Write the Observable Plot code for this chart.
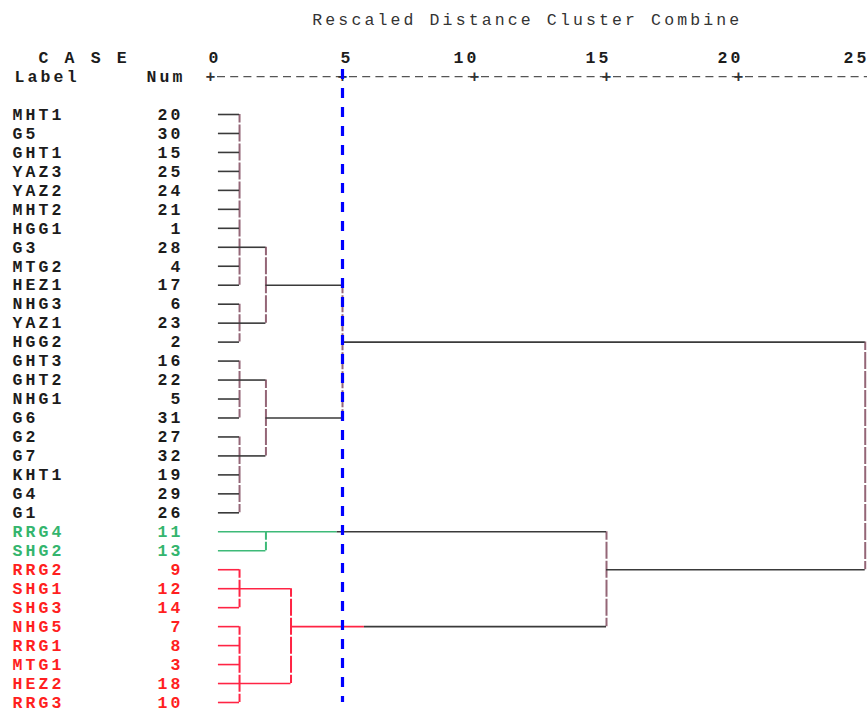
<!DOCTYPE html>
<html>
<head>
<meta charset="utf-8">
<script src="https://cdn.jsdelivr.net/npm/d3@7"></script>
<script src="https://cdn.jsdelivr.net/npm/@observablehq/plot@0.6"></script>
<style>
  html, body { margin: 0; padding: 0; background: #fff; }
</style>
</head>
<body>
<div id="chart"></div>
<script>
// ---------- data ----------
const labels = ["MHT1","G5","GHT1","YAZ3","YAZ2","MHT2","HGG1","G3","MTG2","HEZ1","NHG3","YAZ1","HGG2",
  "GHT3","GHT2","NHG1","G6","G2","G7","KHT1","G4","G1","RRG4","SHG2","RRG2","SHG1","SHG3","NHG5",
  "RRG1","MTG1","HEZ2","RRG3"];
const nums = [20,30,15,25,24,21,1,28,4,17,6,23,2,16,22,5,31,27,32,19,29,26,11,13,9,12,14,7,8,3,18,10];
const rowGroup = ["black","black","black","black","black","black","black","black","black","black","black",
  "black","black","black","black","black","black","black","black","black","black","black",
  "green","green","red","red","red","red","red","red","red","red"];

// merges: vertical spans rows [top..bottom] at distance, output line on outRow to parent
const mergeName   = ["A1","A2","A","B1","B2","B","AB","G","C1","C2","C","GC","ROOT"];
const mergeTop    = [0, 10, 7, 13, 17, 14, 9, 22, 24, 27, 25, 22, 12];
const mergeBottom = [9, 12, 11, 16, 21, 18, 16, 23, 26, 31, 30, 27, 24];
const mergeDist   = [1.1, 1.1, 2.1, 1.1, 1.1, 2.1, 5.0, 2.1, 1.1, 1.1, 3.05, 15.0, 24.8];
const mergeOutRow = [7, 11, 9, 14, 18, 16, 12, 22, 25, 30, 27, 24, null];
const mergeParent = ["A","A","AB","B","B","AB","ROOT","GC","C","C","GC","ROOT",null];
const colorCutName = ["G","C"];
const colorCutDist = [4.8, 5.83];
const leafStart = 0.3;
const cutLevel = 5;
const ticks = [0, 5, 10, 15, 20, 25];
const titleText = "Rescaled Distance Cluster Combine";

// ---------- styles ----------
const lineColor = {black: "#3a3a3a", green: "#3dba78", red: "#ff2444"};
const vLineColor = {black: "#946677", green: "#3dba78", red: "#ff2444"};
const textColor = {black: "#1c1c1c", green: "#34b56e", red: "#ff1f1f"};

// ---------- build segments ----------
const hSegs = [], vSegs = [];
labels.forEach((l, i) => {
  const d = d3.min(mergeDist.filter((_, k) => mergeTop[k] <= i && i <= mergeBottom[k]));
  hSegs.push({x1: leafStart, x2: d, y: i, stroke: lineColor[rowGroup[i]]});
});
mergeName.forEach((n, k) => {
  const g = rowGroup[mergeTop[k]] === rowGroup[mergeBottom[k]] ? rowGroup[mergeTop[k]] : "black";
  vSegs.push({x: mergeDist[k], y1: mergeTop[k], y2: mergeBottom[k], stroke: vLineColor[g]});
  if (mergeParent[k]) {
    const pd = mergeDist[mergeName.indexOf(mergeParent[k])];
    const ci = colorCutName.indexOf(n);
    const cut = ci >= 0 ? colorCutDist[ci] : pd;
    hSegs.push({x1: mergeDist[k], x2: cut, y: mergeOutRow[k], stroke: lineColor[g]});
    if (cut < pd) hSegs.push({x1: cut, x2: pd, y: mergeOutRow[k], stroke: lineColor.black});
  }
});
const rows = labels.map((l, i) => ({i, label: l, num: nums[i], fill: textColor[rowGroup[i]]}));

// ---------- plot ----------
const chart = Plot.plot({
  width: 867,
  height: 709,
  marginLeft: 210, marginRight: 0, marginTop: 114, marginBottom: 7,
  x: {domain: [0, 25], range: [210, 870], axis: null},
  y: {domain: [0, 31], range: [114, 702], axis: null},
  color: {type: "identity"},
  style: "font-family:'Liberation Mono',monospace;font-size:16.5px;letter-spacing:3.13px;background:#fff;overflow:visible;",
  marks: [
    // title
    Plot.text([titleText], {x: 12, y: -5, text: d => d, fill: "#333", fontWeight: "normal"}),
    // header
    Plot.text(["C A S E"], {frameAnchor: "left", y: -3, text: d => d, dx: -172, textAnchor: "start", fontWeight: "bold", fill: "#1c1c1c"}),
    Plot.text(["Label"], {frameAnchor: "left", y: -2, text: d => d, dx: -196, textAnchor: "start", fontWeight: "bold", fill: "#1c1c1c"}),
    Plot.text(["Num"], {frameAnchor: "left", y: -2, text: d => d, dx: -25, textAnchor: "end", fontWeight: "bold", fill: "#1c1c1c"}),
    // axis
    Plot.ruleY([-2], {x1: 0, x2: 25, stroke: "#555", strokeWidth: 1.2, strokeDasharray: "8,5.2", strokeDashoffset: 6.2}),
    Plot.text(ticks.filter(d => d < 25), {x: d => d, y: -2, text: () => "+", dx: 1.5, fill: "#333", fontWeight: "bold"}),
    Plot.text(ticks.filter(d => d < 10), {x: d => d, y: -3, text: d => String(d), textAnchor: "end", dx: 11, fontWeight: "bold", fill: "#1c1c1c"}),
    Plot.text(ticks.filter(d => d >= 10 && d < 25), {x: d => d, y: -3, text: d => String(d), textAnchor: "end", dx: 5, fontWeight: "bold", fill: "#1c1c1c"}),
    Plot.text(ticks.filter(d => d >= 25), {x: d => d, y: -3, text: d => String(d), textAnchor: "end", dx: -1, fontWeight: "bold", fill: "#1c1c1c"}),
    // row labels
    Plot.text(rows, {frameAnchor: "left", y: "i", text: "label", fill: "fill", dx: -198, textAnchor: "start", fontWeight: "bold"}),
    Plot.text(rows, {frameAnchor: "left", y: "i", text: d => String(d.num), fill: "fill", dx: -27, textAnchor: "end", fontWeight: "bold"}),
    // dendrogram
    Plot.ruleX(vSegs, {x: "x", y1: "y1", y2: "y2", stroke: "stroke", strokeWidth: 2, strokeDasharray: "17,2", strokeDashoffset: 8.5}),
    Plot.ruleY(hSegs, {y: "y", x1: "x1", x2: "x2", stroke: "stroke", strokeWidth: 1.6}),
    // cut line
    Plot.ruleX([cutLevel], {y1: -2.37, y2: 31, stroke: "#0000ff", strokeWidth: 3.2, strokeDasharray: "10,9"})
  ]
});
document.getElementById("chart").appendChild(chart);
</script>
</body>
</html>
